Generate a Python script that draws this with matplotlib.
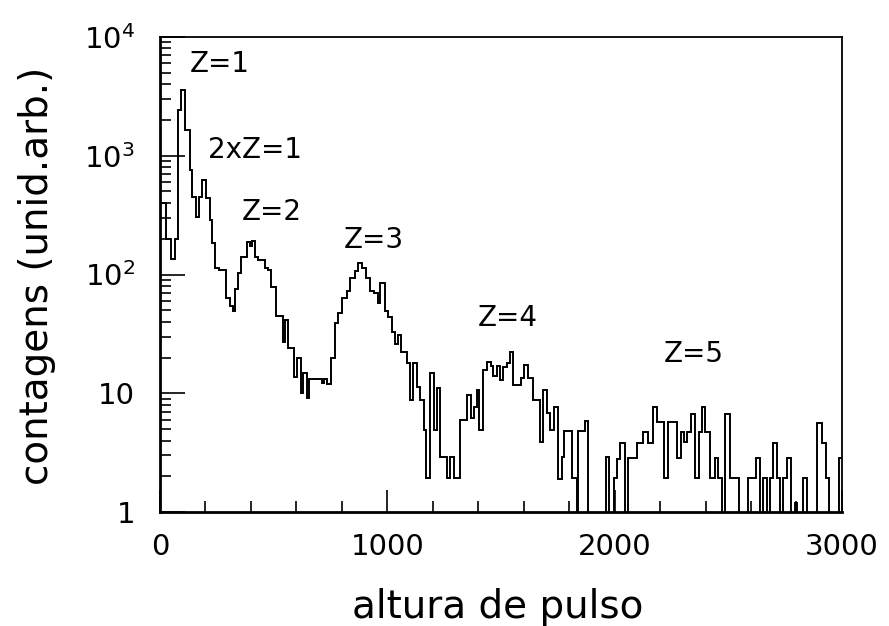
import matplotlib
matplotlib.use("Agg")
import matplotlib.pyplot as plt
import numpy as np
from matplotlib.ticker import FixedLocator, MultipleLocator, LogLocator, NullFormatter, FixedFormatter

# bin edges (pulse height) and counts
edges = [0, 28, 50, 64, 79, 91, 108, 130, 142, 160, 172, 186, 204, 218, 229, 243, 258,
         292, 306, 321, 332, 343, 355, 384, 394, 406, 416, 431, 460, 475, 490, 510, 543,
         551, 565, 590, 601, 619, 631, 645, 657, 711, 722, 736, 751, 770, 785, 799, 821,
         836, 858, 873, 887, 905, 926, 942, 958, 970, 988, 1005, 1019, 1034, 1046, 1060,
         1085, 1100, 1115, 1130, 1144, 1160, 1172, 1188, 1205, 1217, 1232, 1261, 1278,
         1295, 1320, 1349, 1368, 1383, 1393, 1405, 1420, 1440, 1456, 1467, 1481, 1496,
         1511, 1525, 1540, 1552, 1587, 1602, 1621, 1643, 1672, 1687, 1701, 1716, 1734,
         1753, 1767, 1778, 1811, 1836, 1841, 1870, 1885, 1962, 1977, 1998, 2010, 2024,
         2045, 2061, 2097, 2127, 2149, 2171, 2188, 2217, 2233, 2275, 2290, 2307, 2320,
         2336, 2354, 2371, 2385, 2398, 2418, 2442, 2457, 2474, 2486, 2508, 2549, 2586,
         2620, 2640, 2655, 2669, 2684, 2699, 2713, 2728, 2743, 2757, 2774, 2794, 2801,
         2828, 2846, 2890, 2911, 2930, 2943, 2988, 3000]
counts = [400, 200, 134, 200, 2430, 3580, 1650, 760, 450, 305, 450, 625, 437, 288, 183, 113,
          110, 63, 54, 49, 75, 103, 141, 189, 175, 193, 141, 133, 113, 110, 79, 45,
          27, 41, 24, 13.8, 20, 10, 14.9, 9.1, 13.1, 12.1, 13.1, 12, 20, 39, 47, 63,
          72, 93, 106, 124, 113, 93, 72, 70, 57, 85, 49, 44, 33, 26, 31,
          22.4, 17.9, 8.8, 17.9, 11.2, 8.8, 4.9, 1.95, 14.7, 4.9, 11, 2.9, 1.95,
          2.9, 1.95, 6, 9.7, 6.2, 7.6, 10.6, 4.9, 15.7, 18.4, 17, 14, 17,
          13, 16.7, 17.9, 22.4, 11.7, 13.4, 17.3, 13.4, 8.8, 3.9, 10.6, 6.8, 4.9,
          7.7, 1.9, 2.9, 4.8, 1.95, 0, 4.8, 5.8, 0, 2.9, 0, 1.93, 2.8,
          3.8, 0, 2.85, 3.8, 4.7, 3.8, 7.6, 5.76, 1.93, 5.76, 2.83, 4.75, 3.9,
          4.75, 6.7, 1.93, 4.75, 7.6, 4.75, 1.93, 2.83, 1.93, 0, 6.7, 1.93, 0,
          1.93, 2.83, 0, 1.93, 0, 1.93, 3.8, 1.93, 0, 1.93, 2.83, 0, 1.2,
          0, 1.93, 0, 5.65, 3.84, 1.93, 0, 2.83]

x_ticks = [0, 1000, 2000, 3000]
y_ticks = [1, 10, 100, 1000, 10000]
y_tick_labels = ["1", "10", "$10^2$", "$10^3$", "$10^4$"]

peak_labels = ["Z=1", "2xZ=1", "Z=2", "Z=3", "Z=4", "Z=5"]
peak_x = [262, 418, 491, 939, 1529, 2347]
peak_y = [5900, 1120, 336, 195, 43, 21.4]

plt.rcParams["font.family"] = ["DejaVu Sans"]
plt.rcParams["mathtext.fontset"] = "dejavusans"

fig = plt.figure(figsize=(8.89, 6.26), dpi=100)
ax = fig.add_axes([0.18, 0.182, 0.767, 0.759])

# empty bins are pushed below the axis so the line drops to the bottom
ax.stairs(np.maximum(counts, 0.3), edges, color="black", lw=1.4, baseline=None)

ax.set_yscale("log")
ax.set_xlim(0, 3000)
ax.set_ylim(1, 1e4)

ax.xaxis.set_major_locator(FixedLocator(x_ticks))
ax.xaxis.set_minor_locator(MultipleLocator(200))
ax.yaxis.set_major_locator(FixedLocator(y_ticks))
ax.yaxis.set_major_formatter(FixedFormatter(y_tick_labels))
ax.yaxis.set_minor_locator(LogLocator(base=10, subs=np.arange(2, 10)))
ax.yaxis.set_minor_formatter(NullFormatter())

ax.tick_params(axis="x", which="major", direction="in", length=16, width=1.2,
               top=False, pad=15, labelsize=21)
ax.tick_params(axis="x", which="minor", direction="in", length=8, width=1.2, top=False)
ax.tick_params(axis="y", which="major", direction="in", length=18, width=1.2,
               right=False, pad=18, labelsize=21)
ax.tick_params(axis="y", which="minor", direction="in", length=8, width=1.2, right=False)

for side in ["left", "bottom"]:
    ax.spines[side].set_linewidth(2)
for side in ["top", "right"]:
    ax.spines[side].set_linewidth(1.3)

ax.set_xlabel("altura de pulso", fontsize=28, va="center")
ax.xaxis.set_label_coords(0.495, -0.2)
ax.set_ylabel("contagens (unid.arb.)", fontsize=28, va="center")
ax.yaxis.set_label_coords(-0.18, 0.497)

for lab, px, py in zip(peak_labels, peak_x, peak_y):
    ax.text(px, py, lab, fontsize=20, ha="center", va="center")

fig.savefig("out.png", dpi=100)
